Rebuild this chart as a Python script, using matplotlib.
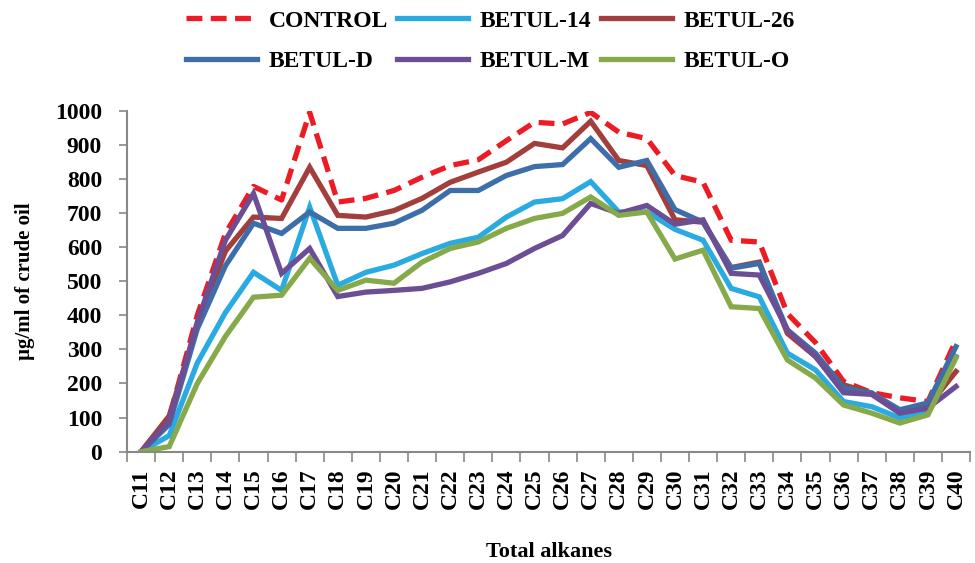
import matplotlib
matplotlib.use("Agg")
import matplotlib.pyplot as plt
import numpy as np

plt.rcParams['font.family'] = ['Liberation Serif', 'DejaVu Serif']
plt.rcParams['font.weight'] = 'bold'
plt.rcParams['axes.labelweight'] = 'bold'

alkanes = ['C%d' % n for n in range(11, 41)]

control = [0, 100, 400, 640, 778, 738, 995, 732, 743, 766, 805, 839, 856, 912, 966, 961,
           995, 937, 918, 810, 790, 620, 615, 405, 320, 206, 173, 158, 147, 327]
betul_14 = [0, 47, 260, 408, 526, 473, 717, 488, 526, 547, 581, 611, 629, 688, 732, 742,
            792, 703, 703, 652, 620, 479, 454, 289, 240, 147, 132, 99, 118, 279]
betul_26 = [0, 105, 370, 588, 688, 684, 834, 693, 688, 707, 743, 790, 820, 849, 904, 891,
            969, 854, 839, 680, 673, 540, 556, 347, 279, 196, 172, 118, 132, 235]
betul_d = [0, 80, 360, 545, 670, 640, 703, 655, 655, 670, 708, 766, 766, 810, 836, 842,
           918, 834, 854, 710, 673, 538, 552, 357, 289, 187, 172, 123, 143, 308]
betul_m = [0, 90, 380, 620, 757, 523, 596, 455, 468, 473, 479, 498, 523, 552, 596, 634,
           728, 699, 722, 667, 680, 523, 518, 357, 279, 173, 168, 113, 128, 191]
betul_o = [0, 15, 200, 338, 453, 459, 567, 473, 503, 494, 556, 596, 615, 655, 684, 699,
           747, 693, 703, 565, 591, 425, 420, 269, 216, 137, 113, 84, 108, 275]

series = [
    ('CONTROL', control, '#ED1C24', (0, (3, 1.6))),
    ('BETUL-14', betul_14, '#29ABE2', '-'),
    ('BETUL-26', betul_26, '#A23F3C', '-'),
    ('BETUL-D', betul_d, '#3D6EAA', '-'),
    ('BETUL-M', betul_m, '#6B4E93', '-'),
    ('BETUL-O', betul_o, '#86A94A', '-'),
]

fig = plt.figure(figsize=(9.75, 5.63), dpi=100)
ax = fig.add_axes([0.1303, 0.1977, 0.8646, 0.6057])

x = np.arange(len(alkanes))
for name, vals, color, ls in series:
    ax.plot(x, vals, color=color, linestyle=ls, lw=3.8, label=name, solid_joinstyle='miter')

ax.set_xlim(-0.5, len(alkanes) - 0.5)
ax.set_ylim(0, 1000)
ax.set_yticks(range(0, 1001, 100))
ax.tick_params(axis='y', labelsize=17, length=6, color='#888888', width=1.2, pad=12)

# category labels centred, tick marks between categories
ax.set_xticks(x)
ax.set_xticklabels(alkanes, rotation=90, fontsize=17)
ax.tick_params(axis='x', which='major', length=0, pad=12)
ax.set_xticks(np.arange(-0.5, len(alkanes)), minor=True)
ax.tick_params(axis='x', which='minor', length=7, color='#888888', width=1.2)

for side in ['top', 'right']:
    ax.spines[side].set_visible(False)
for side in ['left', 'bottom']:
    ax.spines[side].set_color('#888888')
    ax.spines[side].set_linewidth(1.5)

ax.set_ylabel('µg/ml of crude oil', fontsize=15, labelpad=14)
ax.set_xlabel('Total alkanes', fontsize=16, labelpad=24)

# legend is filled column by column, so reorder to read across rows
handles, labels = ax.get_legend_handles_labels()
order = [0, 3, 1, 4, 2, 5]
fig.legend([handles[i] for i in order], [labels[i] for i in order],
           loc='upper center', bbox_to_anchor=(0.503, 1.02), ncol=3,
           frameon=False, fontsize=17, handlelength=3.0, handletextpad=0.5,
           columnspacing=0.4, labelspacing=0.8)

fig.savefig('out.png', dpi=100)
